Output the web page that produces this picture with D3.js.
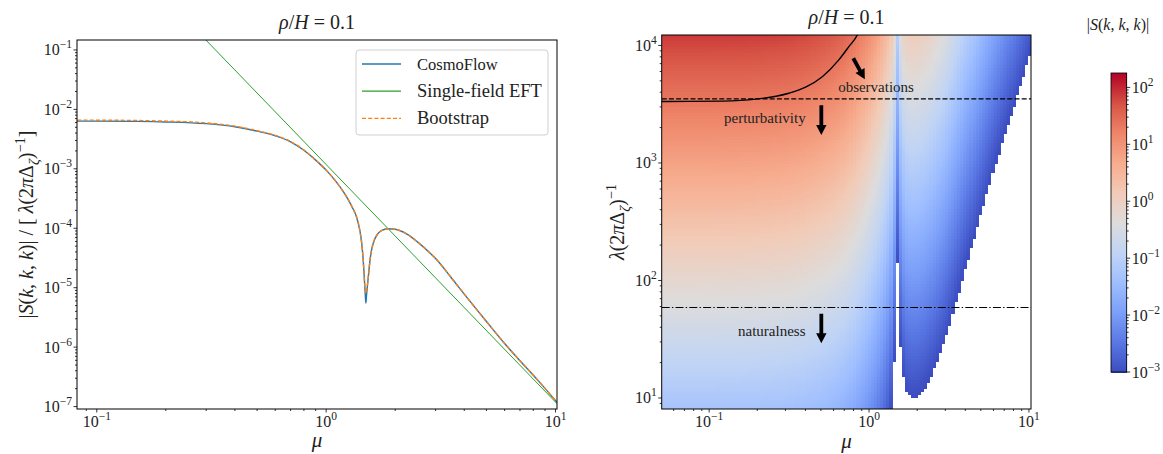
<!DOCTYPE html>
<html><head><meta charset="utf-8">
<script src="https://cdn.jsdelivr.net/npm/d3@7"></script>
<style>
body{margin:0;background:#fff}
svg{display:block}
text{font-family:"Liberation Serif","DejaVu Serif",serif;fill:#222}
</style>
</head><body>
<svg id="c" width="1163" height="454"></svg>
<script>
// ---------------- data ----------------
const muValues = [0.05,0.08,0.1,0.15,0.2,0.3,0.4,0.5,0.6,0.7,0.8,0.9,1.0,1.1,1.2,1.25,1.3,1.357,1.4,1.426,1.45,1.465,1.48,1.49,1.5,1.524,1.55,1.576,1.6,1.684,1.75,1.86,2.0,2.27,2.5,2.865,3.0,3.5,4.0,5.0,6.0,7.0,8.5,10.3];
const cosmoFlow = [6.35e-3,6.35e-3,6.34e-3,6.28e-3,6.15e-3,5.75e-3,5.1e-3,4.3e-3,3.6e-3,2.85e-3,2.05e-3,1.4e-3,9.5e-4,6.2e-4,3.9e-4,3.0e-4,2.25e-4,1.55e-4,9.5e-5,6.0e-5,3.0e-5,1.6e-5,8e-6,5.5e-6,7.5e-6,1.4e-5,2.7e-5,4.2e-5,5.4e-5,8.2e-5,9.2e-5,9.8e-5,9.6e-5,7.8e-5,5.9e-5,3.7e-5,3.1e-5,1.5e-5,7.8e-6,2.7e-6,1.15e-6,5.9e-7,2.6e-7,1.1e-7];
const bootstrap = [6.6e-3,6.6e-3,6.58e-3,6.5e-3,6.35e-3,5.92e-3,5.22e-3,4.38e-3,3.65e-3,2.88e-3,2.07e-3,1.41e-3,9.5e-4,6.2e-4,3.9e-4,3.0e-4,2.25e-4,1.55e-4,9.5e-5,6.0e-5,3.0e-5,1.6e-5,9e-6,8e-6,9e-6,1.4e-5,2.7e-5,4.2e-5,5.4e-5,8.2e-5,9.2e-5,9.8e-5,9.6e-5,7.8e-5,5.9e-5,3.7e-5,3.1e-5,1.5e-5,7.8e-6,2.7e-6,1.15e-6,5.9e-7,2.6e-7,1.1e-7];
const eftMu = [0.299, 1, 10.15];
const eftValues = [0.147, 1.18e-3, 1.12e-7];

const obsMu = [0.05,0.0748,0.121,0.195,0.315,0.401,0.51,0.647,0.748,0.844,0.88];
const obsLambda = [3330,3340,3360,3490,3920,4410,5420,7530,9770,12270,14000];
const perturbLevel = 3510;
const naturalLevel = 58.9;

const xMajorTicks = [0.1, 1, 10];
const leftYTicks = [1e-7,1e-6,1e-5,1e-4,1e-3,1e-2,1e-1];
const rightYTicks = [10,100,1000,10000];
const cbarTicks = [1e-3,1e-2,1e-1,1,10,100];
const legendLabels = ["CosmoFlow","Single-field EFT","Bootstrap"];

const annotLabels = ["observations","perturbativity","naturalness"];
const annotMu = [1.106, 0.223, 0.2465];
const annotLambda = [4045, 2200, 33.8];
const arrowFromMu = [0.797, 0.503, 0.503];
const arrowFromLambda = [7780, 3100, 52];
const arrowToMu = [0.941, 0.503, 0.503];
const arrowToLambda = [5150, 1730, 29.3];

const coolwarmStops = ['#3b4cc0','#5977e3','#7b9ff9','#9ebeff','#c0d4f5','#dddcdc','#f2cbb7','#f7ac8e','#ee8468','#d65244','#b40426'];

// ---------------- setup ----------------
const svg = d3.select("#c");
const defs = svg.append("defs");

const xL = d3.scaleLog().domain([0.082, 10.15]).range([77, 557]);
const yL = d3.scaleLog().domain([9.1e-8, 0.147]).range([409, 40]);
const xR = d3.scaleLog().domain([0.0505, 10.3]).range([661.7, 1031]);
const yR = d3.scaleLog().domain([8.06, 12270]).range([409, 35]);
const cbY = d3.scaleLog().domain([1e-3, 179]).range([372, 73]);
const color = d3.scaleSequentialLog(d3.piecewise(d3.interpolateRgb, coolwarmStops)).domain([1e-3, 179]);

function clip(id, x0, x1, y0, y1){
  defs.append("clipPath").attr("id", id).append("rect")
    .attr("x", x0).attr("y", y0).attr("width", x1-x0).attr("height", y1-y0);
}
clip("clipL", 77, 557, 40, 409);
clip("clipR", 661.7, 1031, 35, 409);

function expLabel(v){
  const e = Math.round(Math.log10(v));
  return e < 0 ? "\u2212" + (-e) : String(e);
}
function addPow(textSel, v){
  textSel.append("tspan").attr("font-size", 16).text("10");
  textSel.append("tspan").attr("font-size", 11.5).attr("dy", -7).text(expLabel(v));
}
function minorVals(scale){
  const [d0, d1] = scale.domain();
  const out = [];
  for (let k = Math.floor(Math.log10(d0)); k <= Math.ceil(Math.log10(d1)); k++){
    for (let m = 2; m <= 9; m++){
      const v = m * Math.pow(10, k);
      if (v >= d0 && v <= d1) out.push(v);
    }
  }
  return out;
}
function axis(g, scale, side, pos, majors){
  const minors = minorVals(scale);
  const tk = (v, len) => {
    const p = scale(v);
    if (side === "left") g.append("line").attr("x1", pos).attr("x2", pos-len).attr("y1", p).attr("y2", p);
    else if (side === "right") g.append("line").attr("x1", pos).attr("x2", pos+len).attr("y1", p).attr("y2", p);
    else g.append("line").attr("y1", pos).attr("y2", pos+len).attr("x1", p).attr("x2", p);
  };
  g.attr("stroke", "#000").attr("stroke-width", 0.8);
  minors.forEach(v => tk(v, 2));
  majors.forEach(v => tk(v, 3.5));
  majors.forEach(v => {
    const p = scale(v);
    let t;
    if (side === "left") t = g.append("text").attr("x", pos-5).attr("y", p+5.5).attr("text-anchor", "end");
    else if (side === "right") t = g.append("text").attr("x", pos+5).attr("y", p+5.5).attr("text-anchor", "start");
    else t = g.append("text").attr("x", p).attr("y", pos+18).attr("text-anchor", "middle");
    t.attr("stroke", "none");
    addPow(t, v);
  });
}
function mathText(el, parts, fs){
  let shift = 0;
  parts.forEach(p => {
    const sp = el.append("tspan").text(p.t);
    let target = 0, size = fs;
    if (p.sub){ target = fs*0.28; size = fs*0.72; }
    if (p.sup){ target = -fs*0.42; size = fs*0.72; }
    if (p.i) sp.attr("font-style", "italic");
    sp.attr("font-size", size);
    if (target !== shift){ sp.attr("dy", target - shift); shift = target; }
  });
}
const titleParts = [{t:"\u03C1", i:1},{t:"/"},{t:"H", i:1},{t:" = 0.1"}];

// ---------------- left panel ----------------
const gL = svg.append("g");
const linesL = gL.append("g").attr("clip-path", "url(#clipL)");
const cfData = muValues.map((m, i) => [m, cosmoFlow[i]]);
const bsData = muValues.map((m, i) => [m, bootstrap[i]]);
const eftData = eftMu.map((m, i) => [m, eftValues[i]]);
const lineL = d3.line().x(d => xL(d[0])).y(d => yL(d[1])).curve(d3.curveMonotoneX);

linesL.append("path").attr("d", lineL(cfData)).attr("fill", "none").attr("stroke", "#1f77b4").attr("stroke-width", 1.4);
linesL.append("path").attr("d", d3.line().x(d => xL(d[0])).y(d => yL(d[1]))(eftData)).attr("fill", "none").attr("stroke", "#2ca02c").attr("stroke-width", 1.0);
linesL.append("path").attr("d", lineL(bsData)).attr("fill", "none").attr("stroke", "#ff7f0e").attr("stroke-width", 1.4).attr("stroke-dasharray", "4,2.2");

gL.append("rect").attr("x", 77).attr("y", 40).attr("width", 480).attr("height", 369)
  .attr("fill", "none").attr("stroke", "#000").attr("stroke-width", 1);
axis(gL.append("g"), yL, "left", 77, leftYTicks);
axis(gL.append("g"), xL, "bottom", 409, xMajorTicks);

mathText(gL.append("text").attr("x", 317).attr("y", 29).attr("text-anchor", "middle"), titleParts, 20);
gL.append("text").attr("x", 317).attr("y", 447).attr("text-anchor", "middle").attr("font-size", 21).attr("font-style", "italic").text("\u03BC");
mathText(gL.append("text").attr("transform", "translate(33,224.5) rotate(-90)").attr("text-anchor", "middle"), [
  {t:"|"},{t:"S", i:1},{t:"("},{t:"k", i:1},{t:", "},{t:"k", i:1},{t:", "},{t:"k", i:1},{t:")| / [ "},
  {t:"\u03BB", i:1},{t:"(2"},{t:"\u03C0", i:1},{t:"\u0394"},{t:"\u03B6", i:1, sub:1},{t:")"},{t:"\u22121", sup:1},{t:"]"}
], 20);

// legend
const lg = gL.append("g");
lg.append("rect").attr("x", 356).attr("y", 50).attr("width", 192).attr("height", 85).attr("rx", 3)
  .attr("fill", "#fff").attr("fill-opacity", 0.8).attr("stroke", "#d0d0d0").attr("stroke-width", 1);
const legColors = ["#1f77b4", "#2ca02c", "#ff7f0e"];
const legDash = [null, null, "4,2.2"];
legendLabels.forEach((lab, i) => {
  const y = 64 + i*27.2;
  lg.append("line").attr("x1", 362).attr("x2", 401).attr("y1", y).attr("y2", y)
    .attr("stroke", legColors[i]).attr("stroke-width", i === 1 ? 1.2 : 1.4).attr("stroke-dasharray", legDash[i]);
  const t = lg.append("text").attr("x", 417).attr("y", y + 6).text(lab);
  if (i === 0) t.attr("font-family", "'DejaVu Sans', sans-serif").attr("font-size", 16.5).attr("fill", "#111");
  else t.attr("font-size", 18.5);
});

// ---------------- right panel ----------------
const gR = svg.append("g");
const heat = gR.append("g").attr("clip-path", "url(#clipR)").attr("shape-rendering", "crispEdges");

const logMu = muValues.map(Math.log10), logF = cosmoFlow.map(Math.log10);
function fAt(mu){
  const lm = Math.log10(mu);
  if (lm <= logMu[0]) return cosmoFlow[0];
  for (let i = 1; i < logMu.length; i++){
    if (lm <= logMu[i]){
      const t = (lm - logMu[i-1]) / (logMu[i] - logMu[i-1]);
      return Math.pow(10, logF[i-1] + t*(logF[i] - logF[i-1]));
    }
  }
  return cosmoFlow[cosmoFlow.length-1];
}
const nx = 120, ny = 125;
const [mx0, mx1] = xR.domain().map(Math.log10);
const [ly0, ly1] = yR.domain().map(Math.log10);
const cells = [];
for (let i = 0; i < nx; i++){
  const a = mx0 + i*(mx1-mx0)/nx, b = mx0 + (i+1)*(mx1-mx0)/nx;
  const muC = Math.pow(10, (a+b)/2);
  const f = fAt(muC);
  for (let j = 0; j < ny; j++){
    const c = ly0 + j*(ly1-ly0)/ny, d = ly0 + (j+1)*(ly1-ly0)/ny;
    const lam = Math.pow(10, (c+d)/2);
    const s = lam * f;
    if (s >= 1e-3) cells.push({m0: Math.pow(10,a), m1: Math.pow(10,b), l0: Math.pow(10,c), l1: Math.pow(10,d), s});
  }
}
heat.selectAll("rect").data(cells).join("rect")
  .attr("x", d => xR(d.m0)).attr("width", d => xR(d.m1) - xR(d.m0) + 0.5)
  .attr("y", d => yR(d.l1)).attr("height", d => yR(d.l0) - yR(d.l1) + 0.5)
  .attr("fill", d => color(d.s));

const over = gR.append("g").attr("clip-path", "url(#clipR)");
over.append("path")
  .attr("d", d3.line().x((d,i) => xR(obsMu[i])).y((d,i) => yR(obsLambda[i])).curve(d3.curveMonotoneX)(obsMu))
  .attr("fill", "none").attr("stroke", "#000").attr("stroke-width", 1.4);
over.append("line").attr("x1", xR.range()[0]).attr("x2", xR.range()[1])
  .attr("y1", yR(perturbLevel)).attr("y2", yR(perturbLevel))
  .attr("stroke", "#000").attr("stroke-width", 1.2).attr("stroke-dasharray", "5,2.2");
over.append("line").attr("x1", xR.range()[0]).attr("x2", xR.range()[1])
  .attr("y1", yR(naturalLevel)).attr("y2", yR(naturalLevel))
  .attr("stroke", "#000").attr("stroke-width", 1.2).attr("stroke-dasharray", "8,2.2,1.4,2.2");

annotLabels.forEach((lab, i) => {
  gR.append("text").attr("x", xR(annotMu[i])).attr("y", yR(annotLambda[i]))
    .attr("text-anchor", "middle").attr("font-size", 15).attr("fill", "#333").text(lab);
});
arrowFromMu.forEach((m, i) => {
  const x1 = xR(m), y1 = yR(arrowFromLambda[i]), x2 = xR(arrowToMu[i]), y2 = yR(arrowToLambda[i]);
  const len = Math.hypot(x2-x1, y2-y1), ux = (x2-x1)/len, uy = (y2-y1)/len, nx_ = -uy, ny_ = ux;
  const hl = 10, hw = 5.2, sw = 1.9;
  const bx = x2 - ux*hl, by = y2 - uy*hl;
  const pts = [
    [x1 + nx_*sw, y1 + ny_*sw], [bx + nx_*sw, by + ny_*sw], [bx + nx_*hw, by + ny_*hw], [x2, y2],
    [bx - nx_*hw, by - ny_*hw], [bx - nx_*sw, by - ny_*sw], [x1 - nx_*sw, y1 - ny_*sw]
  ];
  gR.append("polygon").attr("points", pts.map(p => p.join(",")).join(" ")).attr("fill", "#000");
});

gR.append("rect").attr("x", 661.7).attr("y", 35).attr("width", 1031-661.7).attr("height", 374)
  .attr("fill", "none").attr("stroke", "#000").attr("stroke-width", 1);
axis(gR.append("g"), yR, "left", 661.7, rightYTicks);
axis(gR.append("g"), xR, "bottom", 409, xMajorTicks);

mathText(gR.append("text").attr("x", 846.5).attr("y", 24).attr("text-anchor", "middle"), titleParts, 20);
gR.append("text").attr("x", 846.5).attr("y", 448).attr("text-anchor", "middle").attr("font-size", 21).attr("font-style", "italic").text("\u03BC");
mathText(gR.append("text").attr("transform", "translate(624,222) rotate(-90)").attr("text-anchor", "middle"), [
  {t:"\u03BB", i:1},{t:"(2"},{t:"\u03C0", i:1},{t:"\u0394"},{t:"\u03B6", i:1, sub:1},{t:")"},{t:"\u22121", sup:1}
], 20);

// ---------------- colorbar ----------------
const gC = svg.append("g");
const nSteps = 150;
const [c0, c1] = cbY.domain().map(Math.log10);
const cbData = d3.range(nSteps).map(k => [Math.pow(10, c0 + k*(c1-c0)/nSteps), Math.pow(10, c0 + (k+1)*(c1-c0)/nSteps)]);
gC.append("g").attr("shape-rendering", "crispEdges").selectAll("rect").data(cbData).join("rect")
  .attr("x", 1111).attr("width", 15.7)
  .attr("y", d => cbY(d[1])).attr("height", d => cbY(d[0]) - cbY(d[1]) + 0.6)
  .attr("fill", d => color(Math.sqrt(d[0]*d[1])));
gC.append("rect").attr("x", 1111).attr("y", 73).attr("width", 15.7).attr("height", 299)
  .attr("fill", "none").attr("stroke", "#000").attr("stroke-width", 0.8);
axis(gC.append("g"), cbY, "right", 1126.7, cbarTicks);
mathText(gC.append("text").attr("x", 1118).attr("y", 30).attr("text-anchor", "middle"), [
  {t:"|"},{t:"S", i:1},{t:"("},{t:"k", i:1},{t:", "},{t:"k", i:1},{t:", "},{t:"k", i:1},{t:")|"}
], 16);
</script>
</body></html>
